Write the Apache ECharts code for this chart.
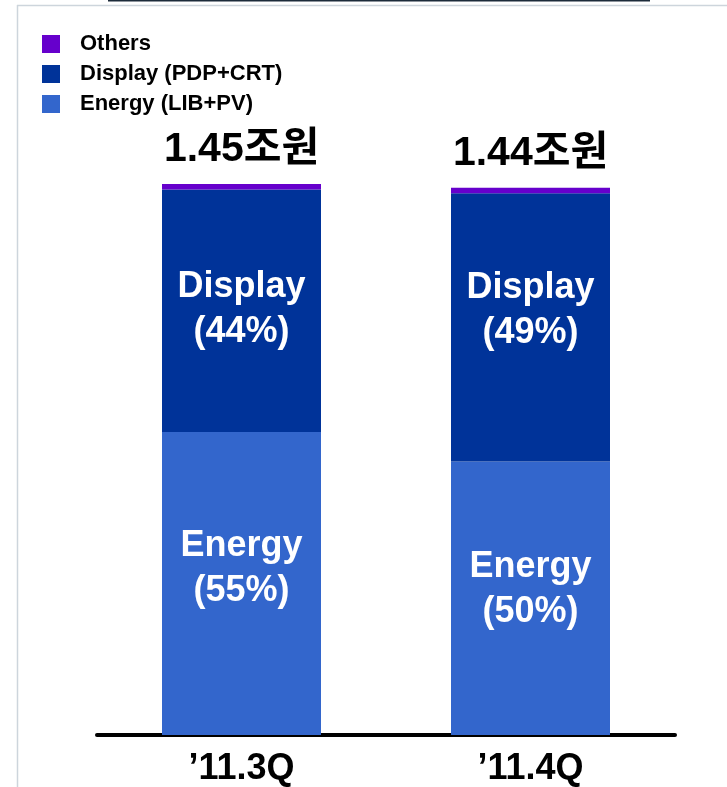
<!DOCTYPE html>
<html>
<head>
<meta charset="utf-8">
<script src="https://cdn.jsdelivr.net/npm/echarts@6/dist/echarts.min.js"></script>
<style>
  html, body { margin: 0; padding: 0; background: #ffffff; }
  #chart { width: 727px; height: 787px; }
</style>
</head>
<body>
<div id="chart"></div>
<script>
// Quarterly sales by business (trillion won) and each business's share (%)
const quarters = ["’11.3Q", "’11.4Q"];
const totals = [1.45, 1.44];
const energyShare = [55, 50];
const displayShare = [44, 49];
const othersShare = [1, 1];

const seriesNames = ["Energy (LIB+PV)", "Display (PDP+CRT)", "Others"];
const colors = { energy: "#3366cc", display: "#003399", others: "#6600cc" };
const FONT = "'Liberation Sans', Arial, 'Noto Sans CJK KR', sans-serif";

// segment value = quarter total x share
const part = (share) => share.map((s, i) => +(totals[i] * s / 100).toFixed(4));

// nudges for the in-bar captions, per quarter
const displayOffsets = [[0, -1], [0, -17]];
const energyOffsets = [[0, -15], [0, -9]];

const inBarLabel = (name, shares, offsets) => (v, i) => ({
  value: v,
  label: {
    show: true,
    position: "inside",
    offset: offsets[i],
    formatter: name + "\n(" + shares[i] + "%)",
    color: "#ffffff",
    fontFamily: FONT,
    fontWeight: "bold",
    fontSize: 36,
    lineHeight: 45
  }
});

const chart = echarts.init(document.getElementById("chart"), null, { renderer: "canvas" });

chart.setOption({
  animation: false,
  backgroundColor: "#ffffff",
  graphic: [
    { type: "line", shape: { x1: 108, y1: 0.5, x2: 650, y2: 0.5 }, style: { stroke: "#1c2b3a", lineWidth: 2 } },
    { type: "line", shape: { x1: 17, y1: 5.5, x2: 727, y2: 5.5 }, style: { stroke: "#cdd5dc", lineWidth: 1.5 } },
    { type: "line", shape: { x1: 17.5, y1: 5, x2: 17.5, y2: 787 }, style: { stroke: "#cdd5dc", lineWidth: 1.5 } }
  ],
  legend: {
    orient: "vertical",
    left: 37,
    top: 28,
    itemWidth: 18,
    itemHeight: 18,
    itemGap: 8,
    icon: "rect",
    data: ["Others", "Display (PDP+CRT)", "Energy (LIB+PV)"],
    textStyle: {
      fontFamily: FONT,
      fontWeight: "bold",
      fontSize: 22,
      color: "#000000",
      padding: [0, 0, 0, 15]
    }
  },
  grid: { left: 97, right: 52, top: 127, bottom: 48 },
  xAxis: {
    type: "category",
    data: quarters,
    axisLine: { show: true, lineStyle: { color: "#000000", width: 4 } },
    axisTick: { show: false },
    axisLabel: {
      color: "#000000",
      fontFamily: FONT,
      fontWeight: "bold",
      fontSize: 36,
      margin: 16
    }
  },
  yAxis: {
    type: "value",
    min: 0,
    max: 1.6,
    show: false,
    splitLine: { show: false }
  },
  series: [
    {
      name: seriesNames[0],
      type: "bar",
      stack: "sales",
      barWidth: 159,
      itemStyle: { color: colors.energy },
      data: part(energyShare).map(inBarLabel("Energy", energyShare, energyOffsets))
    },
    {
      name: seriesNames[1],
      type: "bar",
      stack: "sales",
      barWidth: 159,
      itemStyle: { color: colors.display },
      data: part(displayShare).map(inBarLabel("Display", displayShare, displayOffsets))
    },
    {
      name: seriesNames[2],
      type: "bar",
      stack: "sales",
      barWidth: 159,
      itemStyle: { color: colors.others },
      label: {
        show: true,
        position: "top",
        distance: 14,
        color: "#000000",
        fontFamily: FONT,
        fontWeight: "bold",
        fontSize: 41,
        formatter: (p) => totals[p.dataIndex].toFixed(2) + "조원"
      },
      data: part(othersShare)
    }
  ]
});
</script>
</body>
</html>
